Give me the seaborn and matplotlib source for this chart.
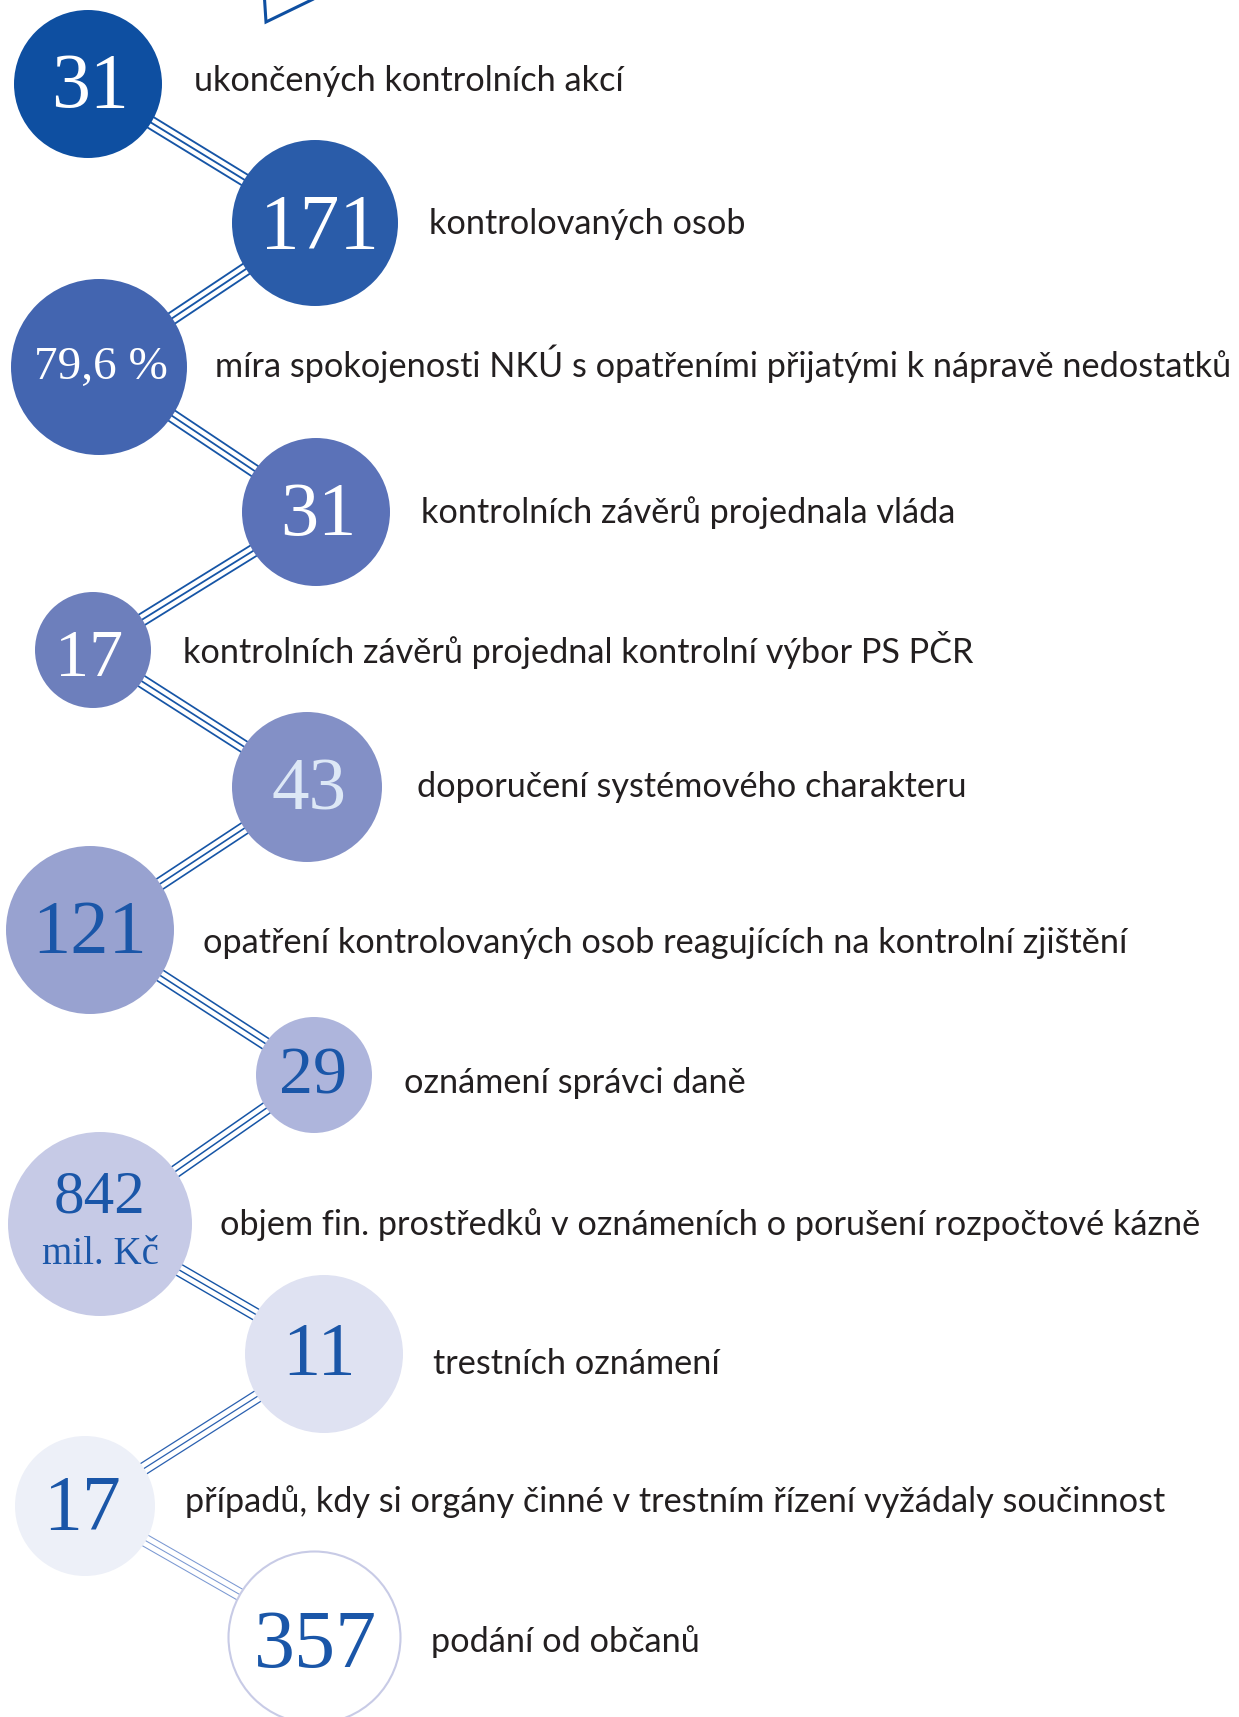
import numpy as np
import pandas as pd
import matplotlib
matplotlib.use("Agg")
import matplotlib.pyplot as plt
import seaborn as sns

# ---------------- data ----------------
values = ["31", "171", "79,6 %", "31", "17", "43", "121", "29", "842", "11", "17", "357"]
sub_values = ["", "", "", "", "", "", "", "", "mil. Kč", "", "", ""]
labels = [
    "ukončených kontrolních akcí",
    "kontrolovaných osob",
    "míra spokojenosti NKÚ s opatřeními přijatými k nápravě nedostatků",
    "kontrolních závěrů projednala vláda",
    "kontrolních závěrů projednal kontrolní výbor PS PČR",
    "doporučení systémového charakteru",
    "opatření kontrolovaných osob reagujících na kontrolní zjištění",
    "oznámení správci daně",
    "objem fin. prostředků v oznámeních o porušení rozpočtové kázně",
    "trestních oznámení",
    "případů, kdy si orgány činné v trestním řízení vyžádaly součinnost",
    "podání od občanů",
]

# ---------------- layout (pixel coordinates) ----------------
cx = [88, 315, 99, 316, 93, 307, 90, 314, 100, 324, 85, 314]
cy = [84, 223, 367, 512, 650, 787, 930, 1075, 1224, 1354, 1506, 1637]
rad = [74, 83, 88, 74, 58, 75, 84, 58, 92, 79, 70, 86]
fills = ["#0e4fa1", "#2a5ca9", "#4365b0", "#5b72b8", "#6d7fbc", "#8390c6",
         "#98a2d0", "#aeb5dc", "#c6cae6", "#dfe2f2", "#edf0f8", "#ffffff"]
edges = ["none"] * 11 + ["#c8cbe6"]
edge_w = [0] * 11 + [1.5]

num_x = [90, 319, 101, 318, 89, 309, 90, 313, 100, 319, 82, 315]
num_base = [107, 248, 379, 535, 676, 809, 953, 1093, 1212, 1375, 1529, 1667]
num_size = [56, 57, 34, 55, 49, 54, 55, 49, 44, 55, 56, 59]
num_col = ["#ffffff"] * 5 + ["#dde8f6"] + ["#1a56a8"] * 6
sub_base = [0] * 8 + [1264] + [0] * 3
sub_size = 28

lab_x = [194, 429, 215, 421, 183, 417, 203, 404, 220, 433, 185, 431]
lab_base = [91, 234, 377, 523, 663, 797, 953, 1093, 1235, 1374, 1512, 1652]
target_w = 1018  # pixel width of the longest label

conn_lw = [1.35, 1.35, 1.3, 1.3, 1.25, 1.2, 1.15, 1.1, 1.0, 0.9, 0.75]
conn_col = ["#1655a6"] * 9 + ["#2a60b0", "#7a98d2"]
spacing = 6.0

W, H = 1239, 1717
sns.set_theme(style="white")
plt.rcParams["font.family"] = ["Lato", "DejaVu Sans"]

fig = plt.figure(figsize=(W / 100, H / 100), dpi=100)
ax = fig.add_axes([0, 0, 1, 1])
ax.set_xlim(0, W)
ax.set_ylim(H, 0)
ax.axis("off")

# triangle tip at top
ax.plot([262, 266, 330], [-40, 22, -9], color="#0e4fa1", lw=2.2, zorder=2,
        solid_joinstyle="miter")

# connectors (three parallel lines)
for i in range(len(cx) - 1):
    p0 = np.array([cx[i], cy[i]], float)
    p1 = np.array([cx[i + 1], cy[i + 1]], float)
    d = (p1 - p0) / np.linalg.norm(p1 - p0)
    n = np.array([-d[1], d[0]])
    for k in (-1, 0, 1):
        a = p0 + k * spacing * n
        b = p1 + k * spacing * n
        ax.plot([a[0], b[0]], [a[1], b[1]], color=conn_col[i],
                lw=conn_lw[i], zorder=1, solid_capstyle="butt")

# circles
df = pd.DataFrame({"x": cx, "y": cy, "r": rad, "label": labels})
for i, row in df.iterrows():
    s = (2 * row["r"] * 0.72) ** 2
    sns.scatterplot(x=[row["x"]], y=[row["y"]], s=s, color=fills[i],
                    edgecolor=edges[i], linewidth=edge_w[i], marker="o",
                    zorder=3, ax=ax, legend=False)

# numbers
for i, v in enumerate(values):
    ax.text(num_x[i], num_base[i], v, ha="center", va="baseline",
            fontsize=num_size[i], color=num_col[i],
            family=["Liberation Serif", "DejaVu Serif"], zorder=4)
    if sub_values[i]:
        ax.text(num_x[i], sub_base[i], sub_values[i], ha="center",
                va="baseline", fontsize=sub_size, color=num_col[i],
                family=["Liberation Serif", "DejaVu Serif"], zorder=4)

# labels, sized so the longest one fits the reference width
texts = []
for i, lab in enumerate(labels):
    t = ax.text(lab_x[i], lab_base[i], lab, ha="left", va="baseline",
                fontsize=24, color="#231f20", zorder=4)
    texts.append(t)
fig.canvas.draw()
r = fig.canvas.get_renderer()
wmax = max(t.get_window_extent(r).width for t in texts)
fs = 24 * target_w / wmax
for t in texts:
    t.set_fontsize(fs)

fig.savefig("out.png", dpi=100)
